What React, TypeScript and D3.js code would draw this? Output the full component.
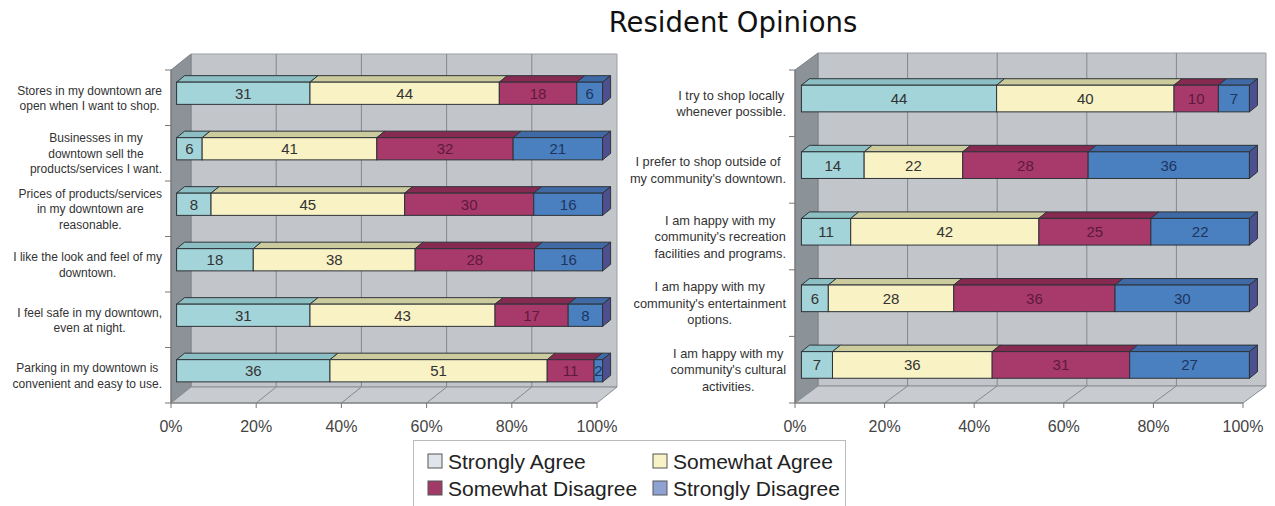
import React from "react";
import * as d3 from "d3";

const seriesNames = ["Strongly Agree", "Somewhat Agree", "Somewhat Disagree", "Strongly Disagree"];

const leftCategories = [
  ["Stores in my downtown are", "open when I want to shop."],
  ["Businesses in my", "downtown sell the", "products/services I want."],
  ["Prices of products/services", "in my downtown are", "reasonable."],
  ["I like the look and feel of my", "downtown."],
  ["I feel safe in my downtown,", "even at night."],
  ["Parking in my downtown is", "convenient and easy to use."],
];
const leftStronglyAgree = [31, 6, 8, 18, 31, 36];
const leftSomewhatAgree = [44, 41, 45, 38, 43, 51];
const leftSomewhatDisagree = [18, 32, 30, 28, 17, 11];
const leftStronglyDisagree = [6, 21, 16, 16, 8, 2];

const rightCategories = [
  ["I try to shop locally", "whenever possible."],
  ["I prefer to shop outside of", "my community's downtown."],
  ["I am happy with my", "community's recreation", "facilities and programs."],
  ["I am happy with my", "community's entertainment", "options."],
  ["I am happy with my", "community's cultural", "activities."],
];
const rightStronglyAgree = [44, 14, 11, 6, 7];
const rightSomewhatAgree = [40, 22, 42, 28, 36];
const rightSomewhatDisagree = [10, 28, 25, 36, 31];
const rightStronglyDisagree = [7, 36, 22, 30, 27];

const tickValues = [0, 20, 40, 60, 80, 100];
const tickLabels = ["0%", "20%", "40%", "60%", "80%", "100%"];

const frontColors = ["#a3d4d9", "#f8f2c4", "#a8396b", "#4a80c0"];
const topColors = ["#8cbfc3", "#cccb9e", "#862a52", "#3f6aa6"];
const sideColor = "#4d4f8e";
const textColors = ["#333", "#333", "#5e1a3c", "#1d3560"];
const legendColors = ["#dfe5ea", "#f7f3c6", "#a23a68", "#8fa3d3"];

const FONT = "Liberation Sans, Arial, sans-serif";

let measureCtx: CanvasRenderingContext2D | null = null;
function textWidth(s: string, size: number) {
  if (!measureCtx) {
    const c = document.createElement("canvas");
    measureCtx = c.getContext("2d");
  }
  if (!measureCtx) return s.length * size * 0.5;
  measureCtx.font = `${size}px "Liberation Sans", Arial, sans-serif`;
  return measureCtx.measureText(s).width;
}

type PanelProps = {
  cats: string[][];
  series: number[][];
  x0: number;
  x1: number;
  yTop: number;
  yBot: number;
  dx: number;
  dy: number;
  labelRight: number;
  labelSize: number;
  lineH: number;
};

function Panel({ cats, series, x0, x1, yTop, yBot, dx, dy, labelRight, labelSize, lineH }: PanelProps) {
  const xs = d3.scaleLinear().domain([0, 100]).range([x0, x1]);
  const ys = d3.scaleBand<number>().domain(d3.range(cats.length)).range([yTop, yBot]);
  const bw = ys.bandwidth();
  const barH = bw * 0.4;
  const f = 0.28;
  const ox = f * dx;
  const oy = -f * dy;
  const bdx = 8;
  const bdy = 6.5;

  const rows = cats.map((_, i) => {
    const vals = series.map((s) => s[i]);
    const total = d3.sum(vals);
    let acc = 0;
    return vals.map((v, k) => {
      const start = (acc / total) * 100;
      acc += v;
      const end = (acc / total) * 100;
      return { v, k, start, end };
    });
  });

  const pts = (p: number[][]) => p.map((q) => q.join(",")).join(" ");

  return (
    <g>
      <polygon
        points={pts([
          [x0 + dx, yTop - dy],
          [x1 + dx, yTop - dy],
          [x1 + dx, yBot - dy],
          [x0 + dx, yBot - dy],
        ])}
        fill="#c2c5c9"
        stroke="#9a9da2"
      />
      <polygon
        points={pts([
          [x0, yTop],
          [x0 + dx, yTop - dy],
          [x0 + dx, yBot - dy],
          [x0, yBot],
        ])}
        fill="#8b9298"
        stroke="#7a8086"
      />
      <polygon
        points={pts([
          [x0, yBot],
          [x0 + dx, yBot - dy],
          [x1 + dx, yBot - dy],
          [x1, yBot],
        ])}
        fill="#c8cbcf"
        stroke="#8a8d92"
      />
      {tickValues.slice(1, -1).map((t) => (
        <g key={"g" + t}>
          <line x1={xs(t) + dx} x2={xs(t) + dx} y1={yTop - dy} y2={yBot - dy} stroke="#85888c" strokeWidth={1} />
          <line x1={xs(t)} x2={xs(t) + dx} y1={yBot} y2={yBot - dy} stroke="#85888c" strokeWidth={1} />
        </g>
      ))}
      <line x1={x0} x2={x1} y1={yBot} y2={yBot} stroke="#777" />
      <line x1={x0} x2={x0} y1={yTop} y2={yBot} stroke="#777" />
      {tickValues.map((t) => (
        <line key={"xt" + t} x1={xs(t)} x2={xs(t)} y1={yBot} y2={yBot + 5} stroke="#777" />
      ))}
      {d3.range(cats.length + 1).map((i) => {
        const y = yTop + i * ys.step();
        return <line key={"yt" + i} x1={x0 - 6} x2={x0} y1={y} y2={y} stroke="#777" />;
      })}
      {tickValues.map((t, i) => (
        <text key={"xl" + t} x={xs(t)} y={yBot + 29} textAnchor="middle" fontFamily={FONT} fontSize={16} fill="#444">
          {tickLabels[i]}
        </text>
      ))}
      {cats.map((lines, i) => {
        const yc = (ys(i) as number) + bw / 2;
        const startY = yc - ((lines.length - 1) * lineH) / 2 + 4.5;
        const maxW = d3.max(lines, (ln) => textWidth(ln, labelSize)) || 0;
        const cx = labelRight - maxW / 2;
        return (
          <text key={"c" + i} textAnchor="middle" fontFamily={FONT} fontSize={labelSize} fill="#333">
            {lines.map((ln, j) => (
              <tspan key={j} x={cx} y={startY + j * lineH}>
                {ln}
              </tspan>
            ))}
          </text>
        );
      })}
      {rows.map((segs, i) => {
        const yc = (ys(i) as number) + bw / 2 + oy;
        const yt = yc - barH / 2;
        const yb = yc + barH / 2;
        const last = segs[segs.length - 1];
        const xe = xs(last.end) + ox;
        return (
          <g key={"b" + i}>
            {segs.map((s) => {
              const xa = xs(s.start) + ox;
              const xb = xs(s.end) + ox;
              return (
                <g key={s.k}>
                  <polygon
                    points={pts([
                      [xa, yt],
                      [xa + bdx, yt - bdy],
                      [xb + bdx, yt - bdy],
                      [xb, yt],
                    ])}
                    fill={topColors[s.k]}
                    stroke="#2e3338"
                    strokeWidth={1}
                    strokeLinejoin="round"
                  />
                  <rect x={xa} y={yt} width={xb - xa} height={barH} fill={frontColors[s.k]} stroke="#2e3338" strokeWidth={1} />
                </g>
              );
            })}
            <polygon
              points={pts([
                [xe, yt],
                [xe + bdx, yt - bdy],
                [xe + bdx, yb - bdy],
                [xe, yb],
              ])}
              fill={sideColor}
              stroke="#2e3338"
              strokeWidth={1}
            />
            {segs.map((s) => (
              <text
                key={"t" + s.k}
                x={(xs(s.start) + xs(s.end)) / 2 + ox}
                y={yc + 5.5}
                textAnchor="middle"
                fontFamily={FONT}
                fontSize={15}
                fill={textColors[s.k]}
              >
                {s.v}
              </text>
            ))}
          </g>
        );
      })}
    </g>
  );
}

export default function App() {
  const legendPos = [
    [428, 461],
    [653, 461],
    [428, 488],
    [653, 488],
  ];
  return (
    <svg width={1275} height={506} style={{ position: "absolute", left: 0, top: 0, background: "#fff" }}>
      <rect x={0} y={0} width={1275} height={506} fill="#fff" />
      <text x={733} y={32} textAnchor="middle" fontFamily="DejaVu Sans, Verdana, sans-serif" fontSize={27.5} fill="#111">
        Resident Opinions
      </text>
      <Panel
        cats={leftCategories}
        series={[leftStronglyAgree, leftSomewhatAgree, leftSomewhatDisagree, leftStronglyDisagree]}
        x0={171}
        x1={597}
        yTop={70}
        yBot={403}
        dx={20}
        dy={16}
        labelRight={162}
        labelSize={12}
        lineH={15.5}
      />
      <Panel
        cats={rightCategories}
        series={[rightStronglyAgree, rightSomewhatAgree, rightSomewhatDisagree, rightStronglyDisagree]}
        x0={795}
        x1={1243}
        yTop={70}
        yBot={403}
        dx={23}
        dy={17}
        labelRight={786}
        labelSize={12.8}
        lineH={16.5}
      />
      <rect x={413.5} y={440.5} width={432} height={80} fill="#fff" stroke="#bbb" />
      {seriesNames.map((n, k) => (
        <g key={n}>
          <rect
            x={legendPos[k][0]}
            y={legendPos[k][1] - 7}
            width={14}
            height={14}
            fill={legendColors[k]}
            stroke="#555"
            strokeWidth={1}
          />
          <text x={legendPos[k][0] + 20} y={legendPos[k][1] + 7.5} fontFamily={FONT} fontSize={21} fill="#222">
            {n}
          </text>
        </g>
      ))}
    </svg>
  );
}
